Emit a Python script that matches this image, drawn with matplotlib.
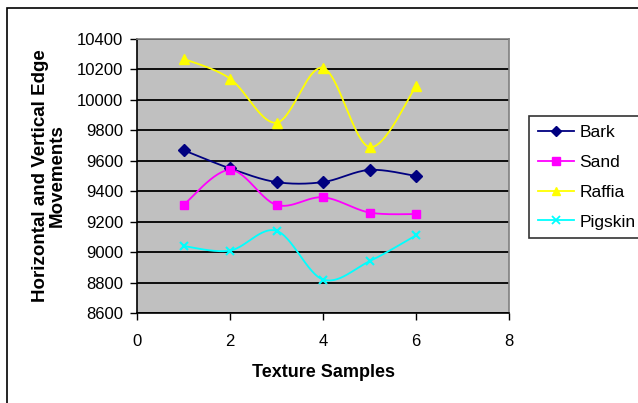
import numpy as np
import matplotlib
matplotlib.use("Agg")
import matplotlib.pyplot as plt
from matplotlib.patches import Rectangle

plt.rcParams['font.family'] = ['Liberation Sans', 'DejaVu Sans']

samples = [1, 2, 3, 4, 5, 6]
bark = [9670, 9550, 9460, 9460, 9540, 9500]
sand = [9310, 9540, 9310, 9360, 9260, 9250]
raffia = [10270, 10140, 9850, 10210, 9690, 10090]
pigskin = [9040, 9010, 9140, 8820, 8940, 9110]

series = [
    ("Bark", bark, "#000080", "D", 6),
    ("Sand", sand, "#FF00FF", "s", 6),
    ("Raffia", raffia, "#FFFF00", "^", 7),
    ("Pigskin", pigskin, "#00FFFF", "x", 6),
]


# smooth curve like Excel's "smoothed line" (Bezier through the points)
def smooth(xs, ys, n=30):
    x = np.asarray(xs, float)
    y = np.asarray(ys, float)
    px = np.concatenate([[x[0]], x, [x[-1]]])
    py = np.concatenate([[y[0]], y, [y[-1]]])
    outx, outy = [], []
    t = np.linspace(0, 1, n)
    for i in range(1, len(px) - 2):
        p0 = np.array([px[i - 1], py[i - 1]])
        p1 = np.array([px[i], py[i]])
        p2 = np.array([px[i + 1], py[i + 1]])
        p3 = np.array([px[i + 2], py[i + 2]])
        c1 = p1 + (p2 - p0) / 6
        c2 = p2 - (p3 - p1) / 6
        b = ((1 - t) ** 3)[:, None] * p1 + (3 * (1 - t) ** 2 * t)[:, None] * c1 \
            + (3 * (1 - t) * t ** 2)[:, None] * c2 + (t ** 3)[:, None] * p2
        outx.extend(b[:, 0])
        outy.extend(b[:, 1])
    return outx, outy


fig = plt.figure(figsize=(6.38, 4.03), dpi=100)
fig.patches.append(Rectangle((7 / 638, -0.05), 1.1, 1 - 8 / 403 + 0.05,
                             transform=fig.transFigure, fill=False,
                             edgecolor="black", linewidth=1.2))

ax = fig.add_axes([137 / 638, 1 - 313 / 403, (509 - 137) / 638, (313 - 39) / 403])
ax.set_facecolor("#C0C0C0")

for name, vals, col, mk, ms in series:
    sx, sy = smooth(samples, vals)
    ax.plot(sx, sy, color=col, linewidth=1.3, zorder=3)
    ax.plot(samples, vals, linestyle="none", marker=mk, color=col,
            markersize=ms, markeredgewidth=1.5 if mk == "x" else 1, zorder=4)

ax.set_xlim(0, 8)
ax.set_ylim(8600, 10400)
ax.set_xticks([0, 2, 4, 6, 8])
ax.set_yticks(np.arange(8600, 10401, 200))
ax.yaxis.grid(True, color="black", linewidth=1.3)
ax.set_axisbelow(True)
ax.tick_params(direction="out", length=5, width=1, labelsize=12, pad=5)
ax.tick_params(axis="x", pad=10)
for side in ["top", "right"]:
    ax.spines[side].set_color("#808080")
    ax.spines[side].set_linewidth(1.2)
for side in ["left", "bottom"]:
    ax.spines[side].set_color("black")
    ax.spines[side].set_linewidth(1.2)

ax.set_xlabel("Texture Samples", fontsize=13, fontweight="bold", labelpad=11)
ax.set_ylabel("Horizontal and Vertical Edge\nMovements", fontsize=13.5,
              fontweight="bold", labelpad=8, linespacing=0.95)

handles = []
for name, vals, col, mk, ms in series:
    h, = ax.plot([], [], color=col, marker=mk, markersize=5.5,
                 markeredgewidth=1.3 if mk == "x" else 1, linewidth=1.3, label=name)
    handles.append(h)
leg = fig.legend(handles=handles, loc="upper left",
                 bbox_to_anchor=(529 / 638, 1 - 116 / 403), fontsize=12.5,
                 frameon=True, fancybox=False, edgecolor="black",
                 handlelength=2.1, handletextpad=0.3, borderpad=0.5,
                 labelspacing=0.85, borderaxespad=0)
leg.get_frame().set_linewidth(1.2)

fig.savefig("out.png", dpi=100)
